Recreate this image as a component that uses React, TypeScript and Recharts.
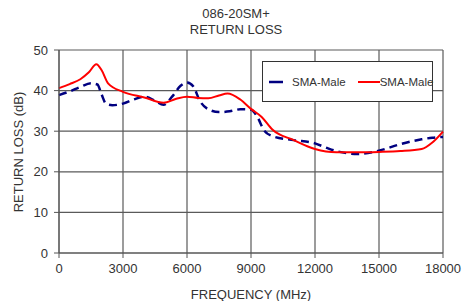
import { CartesianGrid, Label, Legend, Line, LineChart, XAxis, YAxis } from "recharts";

const freqTicks = [0, 3000, 6000, 9000, 12000, 15000, 18000];
const rlTicks = [0, 5, 10, 15, 20, 25, 30, 35, 40, 45, 50];

// dashed navy trace
const blueFreq = [0, 500, 1000, 1500, 1800, 2000, 2200, 2500, 3000, 3500, 4000, 4500, 4900, 5300, 5700, 6000, 6300, 6600, 7000, 7500, 8000, 8500, 9000, 9300, 9600, 10000, 11000, 12000, 12500, 13000, 14000, 15000, 16000, 17000, 17500, 18000];
const blueRL = [38.9, 39.8, 40.9, 41.8, 41.5, 39.0, 36.8, 36.4, 36.8, 37.8, 38.5, 37.5, 36.5, 38.5, 41.2, 42.0, 41.0, 37.5, 35.4, 34.7, 34.9, 35.4, 35.3, 33.5, 30.3, 28.8, 27.8, 27.0, 26.0, 25.1, 24.4, 25.2, 26.8, 28.0, 28.4, 28.6];

// solid red trace
const redFreq = [0, 500, 1000, 1400, 1750, 2000, 2300, 3000, 4000, 4900, 5500, 6000, 6500, 7000, 7500, 7900, 8500, 9000, 9500, 10000, 11000, 12000, 13000, 14000, 15000, 16000, 17000, 17500, 18000];
const redRL = [40.6, 41.6, 42.8, 44.5, 46.5, 45.0, 41.8, 39.7, 38.3, 37.0, 38.0, 38.5, 38.2, 38.1, 38.8, 39.3, 37.8, 35.5, 33.5, 30.4, 27.8, 25.6, 24.8, 24.8, 24.9, 25.1, 25.6, 27.2, 29.9];

const seriesNames = ["SMA-Male", "SMA-Male"];

const blueData = blueFreq.map((f, i) => ({ freq: f, rl: blueRL[i] }));
const redData = redFreq.map((f, i) => ({ freq: f, rl: redRL[i] }));

const font = "'Liberation Sans', Arial, sans-serif";
const textColor = "#333";

function LegendBox() {
  return (
    <div
      style={{
        width: 171,
        height: 41,
        boxSizing: "border-box",
        border: "1px solid #333",
        background: "#fff",
        display: "flex",
        alignItems: "center",
        whiteSpace: "nowrap",
        fontFamily: font,
        fontSize: 11.5,
        color: textColor
      }}
    >
      <svg width={20} height={10} style={{ marginLeft: 6, flexShrink: 0 }}>
        <line x1={0} y1={5} x2={14} y2={5} stroke="#000080" strokeWidth={2.5} />
      </svg>
      <span style={{ marginLeft: 3 }}>{seriesNames[0]}</span>
      <svg width={22} height={10} style={{ marginLeft: 12, flexShrink: 0 }}>
        <line x1={0} y1={5} x2={22} y2={5} stroke="#ff0000" strokeWidth={2} />
      </svg>
      <span>{seriesNames[1]}</span>
    </div>
  );
}

export default function App() {
  return (
    <div
      style={{
        position: "absolute",
        left: 0,
        top: 0,
        width: 464,
        height: 301,
        background: "#fff",
        overflow: "hidden"
      }}
    >
      <div
        style={{
          position: "absolute",
          left: 0,
          top: 6,
          width: 464,
          paddingLeft: 8,
          boxSizing: "border-box",
          textAlign: "center",
          fontFamily: font,
          fontSize: 13,
          lineHeight: "16px",
          color: textColor,
          zIndex: 2
        }}
      >
        086-20SM+
        <br />
        RETURN LOSS
      </div>
      <LineChart width={464} height={301} margin={{ top: 50, right: 21, left: 0, bottom: 0 }}>
        <CartesianGrid stroke="#5a5a5a" strokeWidth={1.2} horizontalValues={rlTicks} verticalValues={freqTicks} />
        <XAxis
          dataKey="freq"
          type="number"
          domain={[0, 18000]}
          ticks={freqTicks}
          allowDuplicatedCategory={false}
          height={48}
          tickSize={5}
          tickMargin={6}
          stroke="#555"
          tick={{ fill: textColor, fontSize: 13, fontFamily: font }}
        >
          <Label
            content={() => (
              <text x={251} y={299} textAnchor="middle" fill={textColor} fontSize={13} fontFamily={font}>
                FREQUENCY (MHz)
              </text>
            )}
          />
        </XAxis>
        <YAxis
          dataKey="rl"
          type="number"
          domain={[0, 50]}
          ticks={rlTicks}
          width={59}
          tickSize={5}
          tickMargin={6}
          stroke="#555"
          tick={{ fill: textColor, fontSize: 13, fontFamily: font }}
        >
          <Label
            content={() => (
              <text
                x={23}
                y={152}
                transform="rotate(-90 23 152)"
                textAnchor="middle"
                fill={textColor}
                fontSize={13}
                fontFamily={font}
              >
                RETURN LOSS (dB)
              </text>
            )}
          />
        </YAxis>
        <Legend
          layout="horizontal"
          verticalAlign="middle"
          align="center"
          wrapperStyle={{ left: 262, top: 61, width: 171, height: 41 }}
          content={() => <LegendBox />}
        />
        <Line
          data={blueData}
          dataKey="rl"
          name={seriesNames[0]}
          type="monotone"
          stroke="#000080"
          strokeWidth={2.5}
          strokeDasharray="8 5"
          dot={false}
          isAnimationActive={false}
        />
        <Line
          data={redData}
          dataKey="rl"
          name={seriesNames[1]}
          type="monotone"
          stroke="#ff0000"
          strokeWidth={2}
          dot={false}
          isAnimationActive={false}
        />
      </LineChart>
    </div>
  );
}
